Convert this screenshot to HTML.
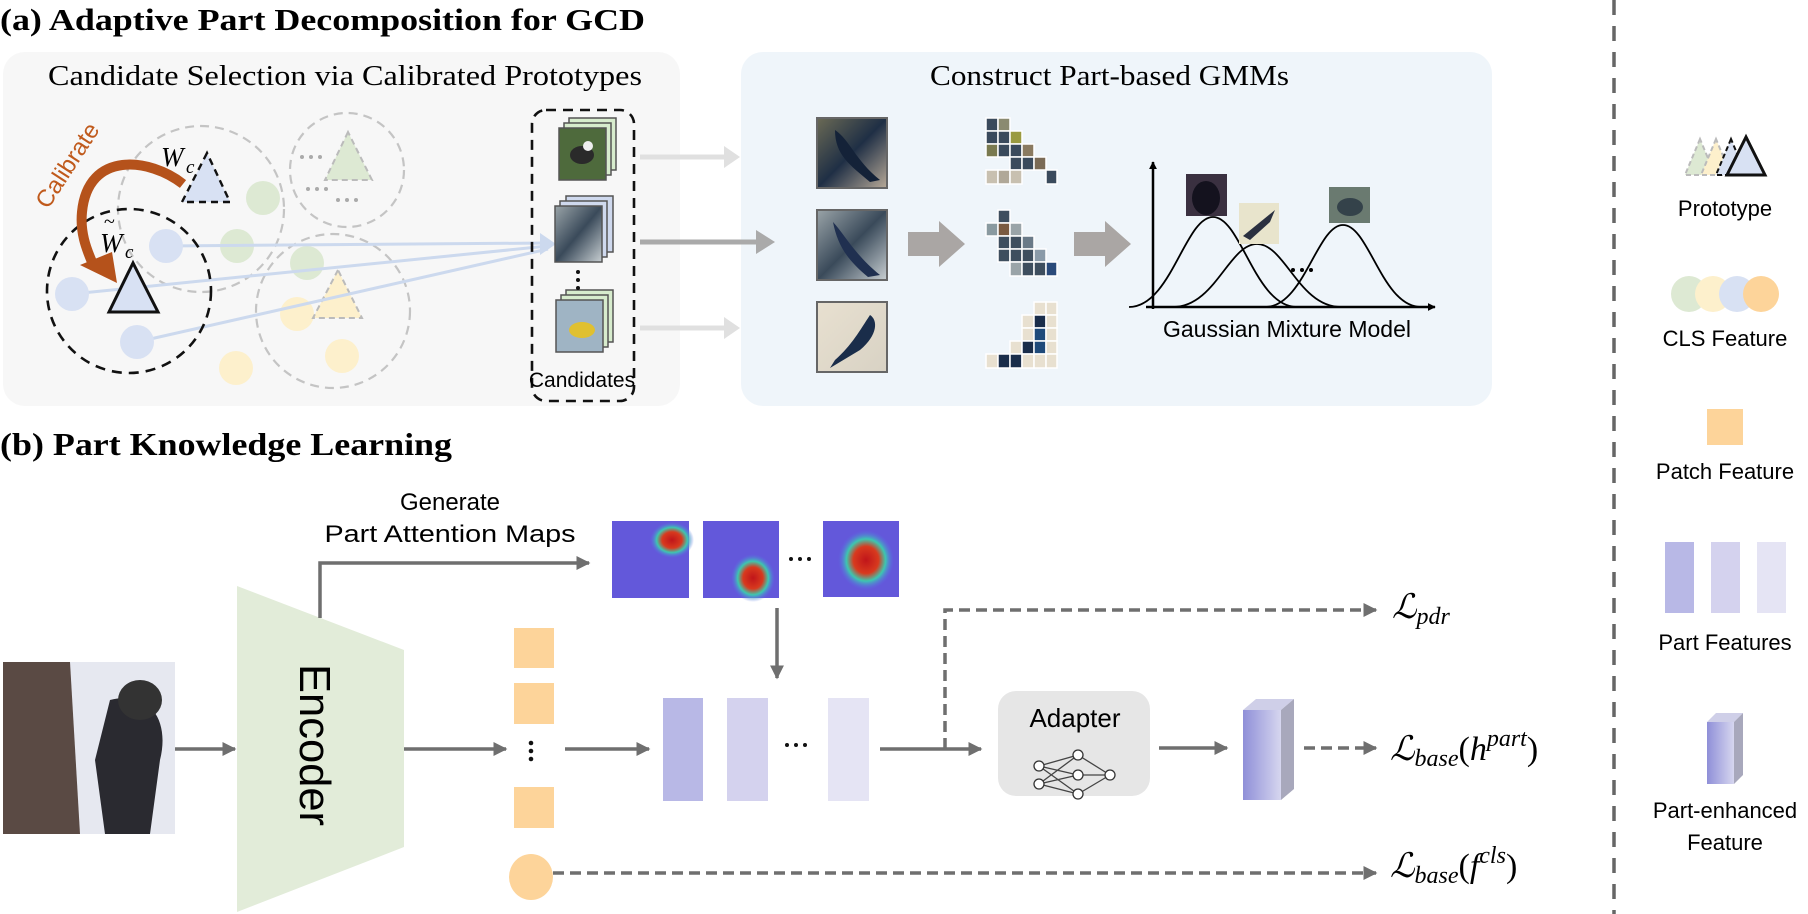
<!DOCTYPE html>
<html><head><meta charset="utf-8"><style>
html,body{margin:0;padding:0;background:#fff;}
svg{display:block;}
.serif{font-family:"Liberation Serif",serif;}
.sans{font-family:"Liberation Sans",sans-serif;}
</style></head><body>
<svg width="1808" height="914" viewBox="0 0 1808 914" xmlns="http://www.w3.org/2000/svg">
<defs>
<marker id="ag" viewBox="0 0 10 10" refX="9" refY="5" markerWidth="4" markerHeight="4" orient="auto"><path d="M0,0 L10,5 L0,10 z" fill="#6f6f6f"/></marker>
<marker id="ab" viewBox="0 0 10 10" refX="9" refY="5" markerWidth="3.2" markerHeight="3.2" orient="auto"><path d="M0,0 L10,5 L0,10 z" fill="#000"/></marker>
<linearGradient id="cube" x1="0" x2="1"><stop offset="0" stop-color="#8f8fd8"/><stop offset="1" stop-color="#d6d6ef"/></linearGradient>
<radialGradient id="hot" cx="0.5" cy="0.5" r="0.5"><stop offset="0" stop-color="#c0151a"/><stop offset="0.45" stop-color="#d83a1e"/><stop offset="0.7" stop-color="#3cc7b0"/><stop offset="1" stop-color="#5b6ce8" stop-opacity="0"/></radialGradient>
<linearGradient id="bird1" x1="0" y1="0" x2="1" y2="1"><stop offset="0" stop-color="#6b6a55"/><stop offset="0.5" stop-color="#1f2f45"/><stop offset="1" stop-color="#b8aa98"/></linearGradient>
<linearGradient id="bird2" x1="0" y1="0" x2="1" y2="1"><stop offset="0" stop-color="#9aa4a8"/><stop offset="0.5" stop-color="#3a4a5a"/><stop offset="1" stop-color="#c8cfd2"/></linearGradient>
<linearGradient id="bird3" x1="0" y1="0" x2="1" y2="1"><stop offset="0" stop-color="#e8e0d0"/><stop offset="1" stop-color="#d8d2c4"/></linearGradient>
</defs>

<text x="0" y="30" class="serif" font-weight="bold" font-size="31" textLength="645" lengthAdjust="spacingAndGlyphs">(a) Adaptive Part Decomposition for GCD</text>
<text x="0" y="455" class="serif" font-weight="bold" font-size="32" textLength="452" lengthAdjust="spacingAndGlyphs">(b) Part Knowledge Learning</text>

<rect x="3" y="52" width="677" height="354" rx="22" fill="#f7f7f7"/>
<rect x="741" y="52" width="751" height="354" rx="22" fill="#eff5fa"/>
<text x="48" y="85" class="serif" font-size="28" textLength="594" lengthAdjust="spacingAndGlyphs">Candidate Selection via Calibrated Prototypes</text>
<text x="930" y="85" class="serif" font-size="28" textLength="359" lengthAdjust="spacingAndGlyphs">Construct Part-based GMMs</text>

<g fill="none" stroke="#c4c4c4" stroke-width="2.2" stroke-dasharray="9,6">
<circle cx="201" cy="209" r="83"/>
<circle cx="347" cy="170" r="57"/>
<circle cx="333" cy="311" r="77"/>
</g>
<g fill="#dde9d3"><circle cx="263" cy="198" r="17"/><circle cx="237" cy="246" r="17"/><circle cx="307" cy="263" r="17"/></g>
<g fill="#fdf0cc"><circle cx="297" cy="314" r="17"/><circle cx="342" cy="356" r="17"/><circle cx="236" cy="368" r="17"/></g>
<polygon points="348,132 325,180 372,180" fill="#dde9d3" stroke="#bbb" stroke-width="2" stroke-dasharray="6,4"/>
<polygon points="338,270 313,318 362,318" fill="#fdf0cc" stroke="#bbb" stroke-width="2" stroke-dasharray="6,4"/>
<g fill="#aaa"><circle cx="302" cy="157" r="2"/><circle cx="311" cy="157" r="2"/><circle cx="320" cy="157" r="2"/>
<circle cx="308" cy="189" r="2"/><circle cx="317" cy="189" r="2"/><circle cx="326" cy="189" r="2"/>
<circle cx="338" cy="200" r="2"/><circle cx="347" cy="200" r="2"/><circle cx="356" cy="200" r="2"/></g>
<g stroke="#ccd9ee" stroke-width="3" fill="none">
<line x1="166" y1="246" x2="548" y2="243"/>
<line x1="72" y1="294" x2="548" y2="246"/>
<line x1="137" y1="342" x2="548" y2="249"/>
</g>
<polygon points="540,233 556,244 540,255" fill="#ccd9ee"/>
<g fill="#d8e1f3"><circle cx="166" cy="246" r="17"/><circle cx="72" cy="294" r="17"/><circle cx="137" cy="342" r="17"/></g>
<circle cx="129" cy="291" r="82" fill="none" stroke="#111" stroke-width="2.6" stroke-dasharray="10,7"/>
<polygon points="207,153 182,202 230,202" fill="#d8e1f3" stroke="#111" stroke-width="2.4" stroke-dasharray="7,5"/>
<polygon points="133,263 109,312 158,312" fill="#d8e1f3" stroke="#111" stroke-width="3"/>
<path d="M183,184 C150,158 88,150 82,212 C80,232 86,248 92,262" fill="none" stroke="#b5521b" stroke-width="10"/>
<polygon points="80,265 112,252 117,283" fill="#b5521b"/>
<text x="0" y="0" class="sans" font-size="24" fill="#c05a1c" transform="translate(48,210) rotate(-57)">Calibrate</text>
<text x="161" y="166" class="serif" font-style="italic" font-size="27">W</text>
<text x="186" y="173" class="serif" font-style="italic" font-size="19">c</text>
<text x="100" y="252" class="serif" font-style="italic" font-size="27">W</text>
<text x="104" y="228" class="serif" font-size="20">~</text>
<text x="125" y="258" class="serif" font-style="italic" font-size="19">c</text>

<rect x="532" y="110" width="102" height="291" rx="14" fill="none" stroke="#111" stroke-width="2.6" stroke-dasharray="10,7"/>
<g stroke="#555" stroke-width="1.5">
<rect x="569" y="118" width="47" height="52" fill="#d7eccd"/><rect x="564" y="123" width="47" height="52" fill="#d7eccd"/>
<rect x="559" y="128" width="47" height="52" fill="#4e6a3c"/>
<rect x="566" y="196" width="47" height="56" fill="#cfd9ee"/><rect x="560" y="201" width="47" height="56" fill="#cfd9ee"/>
<rect x="555" y="206" width="47" height="56" fill="url(#bird2)"/>
<rect x="566" y="290" width="47" height="52" fill="#d7eccd"/><rect x="561" y="295" width="47" height="52" fill="#d7eccd"/>
<rect x="556" y="300" width="47" height="52" fill="#9fb4c4"/>
</g>
<ellipse cx="582" cy="155" rx="12" ry="9" fill="#2a2a2a"/><circle cx="588" cy="146" r="5" fill="#eee"/>
<ellipse cx="582" cy="330" rx="13" ry="8" fill="#e0c030"/>
<g fill="#111"><circle cx="578" cy="272" r="2"/><circle cx="578" cy="280" r="2"/><circle cx="578" cy="288" r="2"/></g>
<text x="582" y="387" class="sans" font-size="21" text-anchor="middle">Candidates</text>

<line x1="640" y1="157" x2="726" y2="157" stroke="#e0e0e0" stroke-width="5"/><polygon points="724,146 740,157 724,168" fill="#e0e0e0"/>
<line x1="640" y1="242" x2="758" y2="242" stroke="#aaa" stroke-width="5"/><polygon points="756,230 775,242 756,254" fill="#aaa"/>
<line x1="640" y1="328" x2="726" y2="328" stroke="#e0e0e0" stroke-width="5"/><polygon points="724,317 740,328 724,339" fill="#e0e0e0"/>

<rect x="817" y="118" width="70" height="70" fill="url(#bird1)" stroke="#666" stroke-width="2"/>
<path d="M835,130 C850,140 855,160 880,180 L870,182 C850,165 835,155 835,130z" fill="#142238"/>
<rect x="817" y="210" width="70" height="70" fill="url(#bird2)" stroke="#666" stroke-width="2"/>
<path d="M833,222 C845,235 855,255 880,275 L868,277 C850,262 838,248 833,222z" fill="#203050"/>
<rect x="817" y="302" width="70" height="70" fill="url(#bird3)" stroke="#666" stroke-width="2"/>
<path d="M870,315 C878,320 878,335 860,350 L830,368 L835,360 C852,345 860,330 870,315z" fill="#1a2d4a"/>

<polygon points="908,232 939,232 939,221 965,244 939,267 939,256 908,256" fill="#aaa6a4"/>
<polygon points="1074,232 1105,232 1105,221 1131,244 1105,267 1105,256 1074,256" fill="#aaa6a4"/>

<g stroke="#fff" stroke-width="1.5">
<g fill="#3a4a5c">
<rect x="986" y="118" width="12" height="13"/><rect x="998" y="118" width="12" height="13" fill="#8a8a70"/>
<rect x="986" y="131" width="12" height="13"/><rect x="998" y="131" width="12" height="13"/><rect x="1010" y="131" width="12" height="13" fill="#9a9a40"/>
<rect x="986" y="144" width="12" height="13" fill="#7a7a50"/><rect x="998" y="144" width="12" height="13"/><rect x="1010" y="144" width="12" height="13"/><rect x="1022" y="144" width="12" height="13" fill="#8a7a60"/>
<rect x="1010" y="157" width="12" height="13"/><rect x="1022" y="157" width="12" height="13"/><rect x="1034" y="157" width="12" height="13" fill="#7a6a55"/>
<rect x="986" y="170" width="12" height="14" fill="#c8c0b0"/><rect x="998" y="170" width="12" height="14" fill="#b0a898"/><rect x="1010" y="170" width="12" height="14" fill="#c8c0b0"/><rect x="1046" y="170" width="11" height="14"/>
</g>
<g fill="#3e4e5e">
<rect x="998" y="210" width="12" height="13"/>
<rect x="986" y="223" width="12" height="13" fill="#8a9aa0"/><rect x="998" y="223" width="12" height="13" fill="#7a5a40"/><rect x="1010" y="223" width="12" height="13" fill="#9aa4a8"/>
<rect x="998" y="236" width="12" height="13"/><rect x="1010" y="236" width="12" height="13"/><rect x="1022" y="236" width="12" height="13" fill="#6a7a88"/>
<rect x="998" y="249" width="12" height="13"/><rect x="1010" y="249" width="12" height="13"/><rect x="1022" y="249" width="12" height="13"/><rect x="1034" y="249" width="12" height="13" fill="#8a9aa8"/>
<rect x="1010" y="262" width="12" height="14" fill="#9aa4a8"/><rect x="1022" y="262" width="12" height="14"/><rect x="1034" y="262" width="12" height="14"/><rect x="1046" y="262" width="11" height="14" fill="#2a4a7a"/>
</g>
<g fill="#e8e0d0">
<rect x="1034" y="302" width="12" height="13"/><rect x="1046" y="302" width="11" height="13"/>
<rect x="1022" y="315" width="12" height="13"/><rect x="1034" y="315" width="12" height="13" fill="#1a2d4a"/><rect x="1046" y="315" width="11" height="13"/>
<rect x="1022" y="328" width="12" height="13"/><rect x="1034" y="328" width="12" height="13" fill="#1f4a7a"/><rect x="1046" y="328" width="11" height="13"/>
<rect x="1010" y="341" width="12" height="13"/><rect x="1022" y="341" width="12" height="13" fill="#1a2d4a"/><rect x="1034" y="341" width="12" height="13" fill="#1f4a7a"/><rect x="1046" y="341" width="11" height="13"/>
<rect x="986" y="354" width="12" height="14"/><rect x="998" y="354" width="12" height="14" fill="#1a2d4a"/><rect x="1010" y="354" width="12" height="14" fill="#1a2d4a"/><rect x="1022" y="354" width="12" height="14"/><rect x="1034" y="354" width="12" height="14"/><rect x="1046" y="354" width="11" height="14"/>
</g>
</g>

<line x1="1153" y1="309" x2="1153" y2="162" stroke="#000" stroke-width="2.5" marker-end="url(#ab)"/>
<line x1="1146" y1="307" x2="1435" y2="307" stroke="#000" stroke-width="2.5" marker-end="url(#ab)"/>
<g fill="none" stroke="#000" stroke-width="1.8">
<path d="M1129,307 C1171,307 1185,217 1213,217 C1241,217 1255,307 1297,307"/>
<path d="M1173,307 C1215,307 1229,244 1257,244 C1285,244 1299,307 1341,307"/>
<path d="M1265,307 C1304,307 1317,225 1343,225 C1369,225 1382,307 1421,307"/>
</g>
<g fill="#000"><circle cx="1293" cy="270" r="2"/><circle cx="1302" cy="270" r="2"/><circle cx="1311" cy="270" r="2"/></g>
<rect x="1186" y="174" width="41" height="42" fill="#3a3040"/><ellipse cx="1206" cy="198" rx="14" ry="17" fill="#14121e"/>
<rect x="1239" y="203" width="40" height="41" fill="#e8e4cc"/><path d="M1243,236 L1275,210 L1270,222 L1250,240z" fill="#2a3040"/>
<rect x="1329" y="187" width="41" height="36" fill="#6a7a70"/><ellipse cx="1350" cy="207" rx="13" ry="9" fill="#34424a"/>
<text x="1287" y="337" class="sans" font-size="23" text-anchor="middle">Gaussian Mixture Model</text>

<line x1="1614" y1="0" x2="1614" y2="914" stroke="#666" stroke-width="3.5" stroke-dasharray="15,11"/>

<polygon points="1700,139 1685,175 1715,175" fill="#dde9d3" stroke="#bbb" stroke-width="2" stroke-dasharray="5,3"/>
<polygon points="1716,139 1701,175 1731,175" fill="#fdf0cc" stroke="#bbb" stroke-width="2" stroke-dasharray="5,3"/>
<polygon points="1731,139 1716,175 1746,175" fill="#d8e1f3" stroke="#111" stroke-width="2" stroke-dasharray="5,3"/>
<polygon points="1746,137 1727,175 1765,175" fill="#d8e1f3" stroke="#111" stroke-width="3"/>
<text x="1725" y="216" class="sans" font-size="22" text-anchor="middle">Prototype</text>
<circle cx="1689" cy="294" r="18" fill="#dde9d3"/><circle cx="1713" cy="294" r="18" fill="#fdf0cc"/><circle cx="1737" cy="294" r="18" fill="#d8e1f3"/><circle cx="1761" cy="294" r="18" fill="#fdd49a"/>
<text x="1725" y="346" class="sans" font-size="22" text-anchor="middle">CLS Feature</text>
<rect x="1707" y="409" width="36" height="36" fill="#fdd49a"/>
<text x="1725" y="479" class="sans" font-size="22" text-anchor="middle">Patch Feature</text>
<rect x="1665" y="542" width="29" height="71" fill="#b8b8e6"/><rect x="1711" y="542" width="29" height="71" fill="#d4d2ee"/><rect x="1757" y="542" width="29" height="71" fill="#e5e4f4"/>
<text x="1725" y="650" class="sans" font-size="22" text-anchor="middle">Part Features</text>
<polygon points="1707,722 1716,713 1743,713 1734,722" fill="#cfcfe8"/>
<polygon points="1734,722 1743,713 1743,775 1734,784" fill="#a8a8bc"/>
<rect x="1707" y="722" width="27" height="62" fill="url(#cube)"/>
<text x="1725" y="818" class="sans" font-size="22" text-anchor="middle">Part-enhanced</text>
<text x="1725" y="850" class="sans" font-size="22" text-anchor="middle">Feature</text>

<rect x="3" y="662" width="172" height="172" fill="#e6e8f0"/>
<path d="M3,662 L70,662 L80,834 L3,834z" fill="#5a4a44"/>
<path d="M110,700 C150,690 170,720 160,760 L150,834 L105,834 L95,760z" fill="#2a2a30"/>
<ellipse cx="140" cy="700" rx="22" ry="20" fill="#333"/>
<line x1="175" y1="749" x2="235" y2="749" stroke="#6f6f6f" stroke-width="3.5" marker-end="url(#ag)"/>
<polygon points="237,586 404,650 404,847 237,912" fill="#e2ecd9"/>
<text x="0" y="0" class="sans" font-size="44" text-anchor="middle" transform="translate(300,745) rotate(90)" textLength="162" lengthAdjust="spacingAndGlyphs">Encoder</text>
<polyline points="320,618 320,563 589,563" fill="none" stroke="#6f6f6f" stroke-width="3.5" marker-end="url(#ag)"/>
<text x="450" y="510" class="sans" font-size="24" text-anchor="middle">Generate</text>
<text x="450" y="542" class="sans" font-size="24" text-anchor="middle" textLength="251" lengthAdjust="spacingAndGlyphs">Part Attention Maps</text>
<rect x="612" y="521" width="77" height="77" fill="#6a40d8"/><rect x="612" y="521" width="77" height="77" fill="#50a0e0" opacity="0.25"/>
<ellipse cx="672" cy="540" rx="22" ry="18" fill="url(#hot)"/>
<rect x="703" y="521" width="76" height="77" fill="#6a40d8"/><rect x="703" y="521" width="76" height="77" fill="#50a0e0" opacity="0.25"/>
<ellipse cx="753" cy="578" rx="22" ry="24" fill="url(#hot)"/>
<rect x="823" y="521" width="76" height="76" fill="#6a40d8"/><rect x="823" y="521" width="76" height="76" fill="#50a0e0" opacity="0.25"/>
<ellipse cx="866" cy="560" rx="28" ry="30" fill="url(#hot)"/>
<g fill="#111"><circle cx="791" cy="559" r="2"/><circle cx="800" cy="559" r="2"/><circle cx="809" cy="559" r="2"/>
<circle cx="787" cy="745" r="2"/><circle cx="796" cy="745" r="2"/><circle cx="805" cy="745" r="2"/>
<circle cx="531" cy="743" r="2.3"/><circle cx="531" cy="751" r="2.3"/><circle cx="531" cy="759" r="2.3"/></g>
<line x1="777" y1="608" x2="777" y2="678" stroke="#6f6f6f" stroke-width="3.5" marker-end="url(#ag)"/>
<rect x="514" y="628" width="40" height="40" fill="#fdd49a"/><rect x="514" y="683" width="40" height="41" fill="#fdd49a"/><rect x="514" y="787" width="40" height="41" fill="#fdd49a"/>
<ellipse cx="531" cy="877" rx="22" ry="23" fill="#fdd49a"/>
<line x1="404" y1="749" x2="506" y2="749" stroke="#6f6f6f" stroke-width="3.5" marker-end="url(#ag)"/>
<line x1="565" y1="749" x2="649" y2="749" stroke="#6f6f6f" stroke-width="3.5" marker-end="url(#ag)"/>
<rect x="663" y="698" width="40" height="103" fill="#b8b8e6"/><rect x="727" y="698" width="41" height="103" fill="#d4d2ee"/><rect x="828" y="698" width="41" height="103" fill="#e5e4f4"/>
<line x1="880" y1="749" x2="981" y2="749" stroke="#6f6f6f" stroke-width="3.5" marker-end="url(#ag)"/>
<polyline points="945,749 945,610 1376,610" fill="none" stroke="#6f6f6f" stroke-width="3.5" stroke-dasharray="11,6" marker-end="url(#ag)"/>
<rect x="998" y="691" width="152" height="105" rx="18" fill="#e6e6e6"/>
<text x="1075" y="727" class="sans" font-size="26" text-anchor="middle">Adapter</text>
<g stroke="#444" stroke-width="1.3" fill="none">
<line x1="1039" y1="766" x2="1078" y2="755"/><line x1="1039" y1="766" x2="1078" y2="775"/><line x1="1039" y1="766" x2="1078" y2="794"/>
<line x1="1039" y1="784" x2="1078" y2="755"/><line x1="1039" y1="784" x2="1078" y2="775"/><line x1="1039" y1="784" x2="1078" y2="794"/>
<line x1="1078" y1="755" x2="1110" y2="775"/><line x1="1078" y1="775" x2="1110" y2="775"/><line x1="1078" y1="794" x2="1110" y2="775"/>
</g>
<g fill="#fff" stroke="#333" stroke-width="1.3">
<circle cx="1039" cy="766" r="5"/><circle cx="1039" cy="784" r="5"/><circle cx="1078" cy="755" r="5"/><circle cx="1078" cy="775" r="5"/><circle cx="1078" cy="794" r="5"/><circle cx="1110" cy="775" r="5"/></g>
<line x1="1159" y1="748" x2="1227" y2="748" stroke="#6f6f6f" stroke-width="3.5" marker-end="url(#ag)"/>
<polygon points="1243,710 1256,699 1294,699 1281,710" fill="#cfcfe8"/>
<polygon points="1281,710 1294,699 1294,789 1281,800" fill="#a8a8bc"/>
<rect x="1243" y="710" width="38" height="90" fill="url(#cube)"/>
<line x1="1304" y1="748" x2="1376" y2="748" stroke="#6f6f6f" stroke-width="3.5" stroke-dasharray="11,6" marker-end="url(#ag)"/>
<line x1="553" y1="873" x2="1376" y2="873" stroke="#6f6f6f" stroke-width="3.5" stroke-dasharray="11,6" marker-end="url(#ag)"/>
<text x="1392" y="618" class="serif" font-style="italic" font-size="34">ℒ<tspan font-size="24" dy="6">pdr</tspan></text>
<text x="1390" y="760" class="serif" font-style="italic" font-size="34">ℒ<tspan font-size="24" dy="6">base</tspan><tspan font-size="34" dy="-6" font-style="normal">(</tspan><tspan>h</tspan><tspan font-size="24" dy="-14">part</tspan><tspan font-size="34" dy="14" font-style="normal">)</tspan></text>
<text x="1390" y="877" class="serif" font-style="italic" font-size="34">ℒ<tspan font-size="24" dy="6">base</tspan><tspan font-size="34" dy="-6" font-style="normal">(</tspan><tspan>f</tspan><tspan font-size="24" dy="-14">cls</tspan><tspan font-size="34" dy="14" font-style="normal">)</tspan></text>
</svg>
</body></html>
